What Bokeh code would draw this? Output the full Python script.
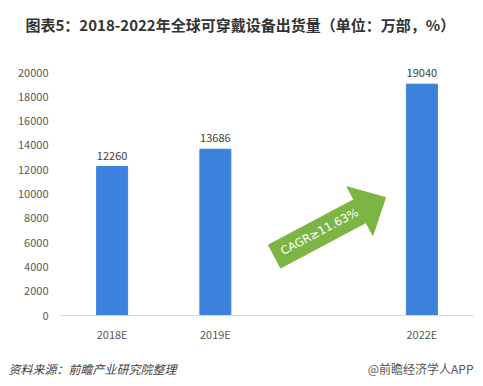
from bokeh.plotting import figure
from bokeh.models import FactorRange, Range1d, Title
from bokeh.layouts import column
from bokeh.core.properties import value
from bokeh.embed import file_html
from bokeh.resources import INLINE
import numpy as np

# ---- data ----
categories = ["2018E", "2019E", " ", "2022E"]
bar_years = ["2018E", "2019E", "2022E"]
shipments = [12260, 13686, 19040]
y_ticks = [0, 2000, 4000, 6000, 8000, 10000, 12000, 14000, 16000, 18000, 20000]
title_text = "图表5：2018-2022年全球可穿戴设备出货量（单位：万部，%）"
source_text = "资料来源：前瞻产业研究院整理"
brand_text = "@前瞻经济学人APP"
cagr_text = "CAGR≥11.63%"

# ---- style / layout ----
FONT = "Noto Sans CJK SC"
W, H = 483, 386
FOOT_H = 41
H1 = H - FOOT_H
BL = 60              # frame left
AX_TOP = 72          # pixel of 20000
AX_BOT = 315         # pixel of 0
PAD = 26             # extra frame space above 20000 for value labels
FW = 413
FH = AX_BOT - AX_TOP + PAD
BT = AX_TOP - PAD
y_per_px = 20000 / (AX_BOT - AX_TOP)
x_per_px = len(categories) / FW
BAR = "#3C82DC"
GREEN = "#7DB544"

p = figure(x_range=FactorRange(*categories),
           y_range=Range1d(0, 20000 + PAD * y_per_px),
           frame_width=FW, frame_height=FH,
           min_border_left=BL, min_border_right=W - BL - FW,
           min_border_top=BT, min_border_bottom=H1 - BT - FH,
           output_backend="svg", toolbar_location=None,
           background_fill_color="white", border_fill_color="white",
           outline_line_color=None)
p.frame_align = False

p.vbar(x=bar_years, top=shipments, width=0.3, color=BAR)
p.text(x=bar_years, y=shipments, text=[str(v) for v in shipments],
       text_align="center", text_baseline="bottom", y_offset=-7,
       text_font=value(FONT), text_font_size="11px", text_color="#404040")

# arrow (data coords of tail centre and tip)
arrow_tail = (2.073, 4856)
arrow_tip = (3.148, 9712)
shaft_w, head_w, head_len = 26, 55, 29
t = np.array([arrow_tail[0] / x_per_px, arrow_tail[1] / y_per_px])
e = np.array([arrow_tip[0] / x_per_px, arrow_tip[1] / y_per_px])
u = (e - t) / np.linalg.norm(e - t)
n = np.array([-u[1], u[0]])
b = e - u * head_len
pts = [t + n * shaft_w / 2, b + n * shaft_w / 2, b + n * head_w / 2, e,
       b - n * head_w / 2, b - n * shaft_w / 2, t - n * shaft_w / 2]
p.patch([q[0] * x_per_px for q in pts], [q[1] * y_per_px for q in pts],
        color=GREEN, line_color=GREEN)
mid = t + u * (np.linalg.norm(b - t) / 2 + 3) + n * 1
ang = float(np.arctan2(u[1], u[0]))
p.text(x=[mid[0] * x_per_px], y=[mid[1] * y_per_px], text=[cagr_text], angle=ang,
       text_align="center", text_baseline="middle", text_color="white",
       text_font=value("DejaVu Sans"), text_font_size="11.5px")

p.xgrid.visible = False
p.ygrid.visible = False
p.yaxis.ticker = y_ticks
p.yaxis.axis_line_color = None
p.yaxis.major_tick_line_color = None
p.yaxis.minor_tick_line_color = None
p.yaxis.major_tick_out = 0
p.yaxis.major_label_standoff = 12
p.yaxis.major_label_text_font = FONT
p.yaxis.major_label_text_font_size = "11px"
p.yaxis.major_label_text_color = "#595959"

p.xaxis.axis_line_color = "#D9D9D9"
p.xaxis.major_tick_line_color = None
p.xaxis.minor_tick_line_color = None
p.xaxis.major_tick_out = 0
p.xaxis.major_label_standoff = 10
p.xaxis.major_label_text_font = FONT
p.xaxis.major_label_text_font_size = "11px"
p.xaxis.major_label_text_color = "#595959"

p.add_layout(Title(text=title_text, align="left", offset=25 - BL, standoff=23,
                   text_font=FONT, text_font_size="15px", text_font_style="bold",
                   text_color="#333333"), "above")

# footer strip (pixel coordinates)
f = figure(frame_width=W, frame_height=FOOT_H, x_range=Range1d(0, W), y_range=Range1d(0, FOOT_H),
           min_border=0, x_axis_location=None, y_axis_location=None,
           output_backend="svg", toolbar_location=None,
           background_fill_color="white", border_fill_color="white",
           outline_line_color=None)
f.frame_align = False
f.xgrid.visible = False
f.ygrid.visible = False
f.text(x=[8], y=[H - 368], text=[source_text], text_align="left", text_baseline="middle",
       text_font=value(FONT), text_font_size="12px", text_font_style="italic",
       text_color="#404040")
f.text(x=[473], y=[H - 368], text=[brand_text], text_align="right", text_baseline="middle",
       text_font=value(FONT), text_font_size="12px", text_color="#555555")

open("out.html", "w").write(file_html(column(p, f, spacing=0), INLINE))
